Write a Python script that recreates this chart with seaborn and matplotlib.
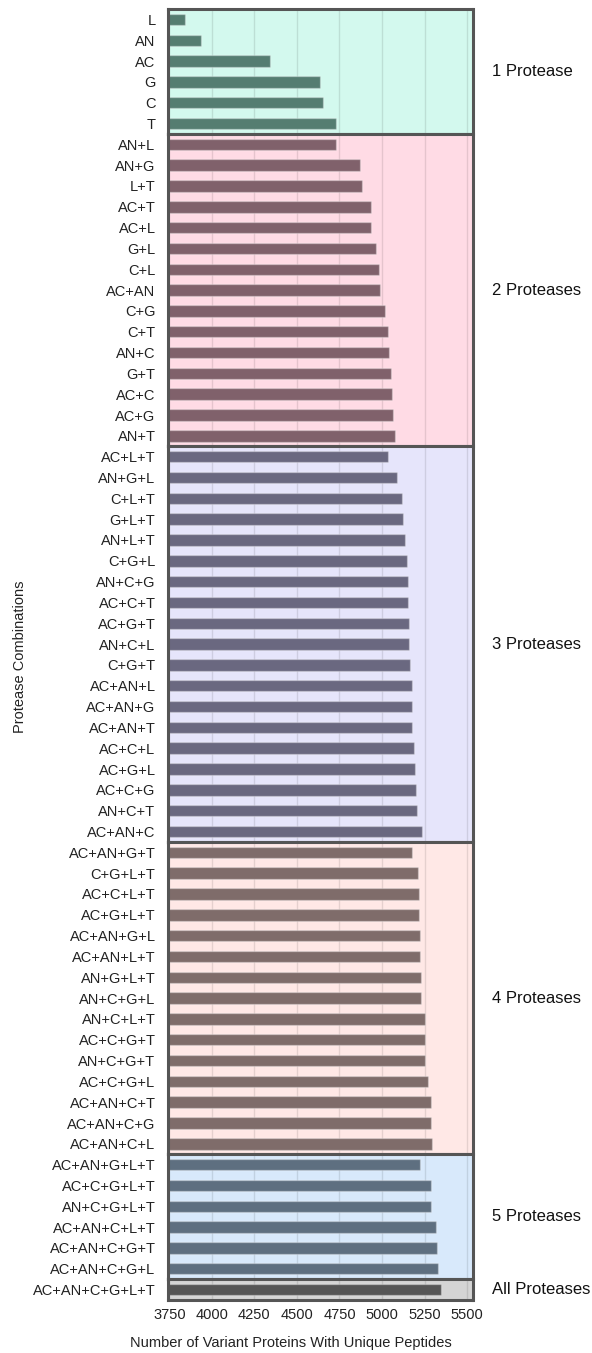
import matplotlib
matplotlib.use("Agg")
import matplotlib.pyplot as plt
import seaborn as sns
import pandas as pd

group_names = ["1 Protease", "2 Proteases", "3 Proteases", "4 Proteases",
               "5 Proteases", "All Proteases"]

labels_1 = ["L", "AN", "AC", "G", "C", "T"]
values_1 = [3841, 3936, 4344, 4636, 4656, 4729]

labels_2 = ["AN+L", "AN+G", "L+T", "AC+T", "AC+L", "G+L", "C+L", "AC+AN",
            "C+G", "C+T", "AN+C", "G+T", "AC+C", "AC+G", "AN+T"]
values_2 = [4727, 4873, 4880, 4933, 4938, 4967, 4980, 4987,
            5015, 5035, 5042, 5051, 5057, 5064, 5077]

labels_3 = ["AC+L+T", "AN+G+L", "C+L+T", "G+L+T", "AN+L+T", "C+G+L", "AN+C+G",
            "AC+C+T", "AC+G+T", "AN+C+L", "C+G+T", "AC+AN+L", "AC+AN+G",
            "AC+AN+T", "AC+C+L", "AC+G+L", "AC+C+G", "AN+C+T", "AC+AN+C"]
values_3 = [5035, 5088, 5115, 5124, 5137, 5146, 5150,
            5155, 5159, 5159, 5164, 5177, 5177,
            5177, 5186, 5195, 5201, 5208, 5235]

labels_4 = ["AC+AN+G+T", "C+G+L+T", "AC+C+L+T", "AC+G+L+T", "AC+AN+G+L",
            "AC+AN+L+T", "AN+G+L+T", "AN+C+G+L", "AN+C+L+T", "AC+C+G+T",
            "AN+C+G+T", "AC+C+G+L", "AC+AN+C+T", "AC+AN+C+G", "AC+AN+C+L"]
values_4 = [5177, 5213, 5215, 5217, 5221,
            5221, 5228, 5228, 5250, 5250,
            5252, 5270, 5286, 5286, 5292]

labels_5 = ["AC+AN+G+L+T", "AC+C+G+L+T", "AN+C+G+L+T", "AC+AN+C+L+T",
            "AC+AN+C+G+T", "AC+AN+C+G+L"]
values_5 = [5221, 5288, 5288, 5317, 5321, 5330]

labels_6 = ["AC+AN+C+G+L+T"]
values_6 = [5348]

x_ticks = [3750, 4000, 4250, 4500, 4750, 5000, 5250, 5500]

bg_colors = ["#d3f9ee", "#ffdbe5", "#e6e5fb", "#ffe8e6", "#d8e9fb", "#d4d4d4"]
bar_colors = ["#557d71", "#80616b", "#6a6880", "#7f6c6a", "#5e6f80", "#555555"]

all_labels = [labels_1, labels_2, labels_3, labels_4, labels_5, labels_6]
all_values = [values_1, values_2, values_3, values_4, values_5, values_6]

sns.set_theme(style="white")
plt.rcParams['font.family'] = ['Liberation Sans', 'DejaVu Sans']

fig = plt.figure(figsize=(5.92, 13.53), dpi=100)
gs = fig.add_gridspec(6, 1, height_ratios=[len(l) for l in all_labels], hspace=0,
                      left=168 / 592, right=472.5 / 592,
                      top=1 - 9 / 1353, bottom=1 - 1300 / 1353)

axes = []
for i in range(6):
    ax = fig.add_subplot(gs[i], sharex=axes[0] if axes else None)
    axes.append(ax)
    df = pd.DataFrame({"combo": all_labels[i], "count": all_values[i]})
    sns.barplot(data=df, x="count", y="combo", color=bar_colors[i], saturation=1,
                width=0.55, ax=ax, edgecolor=(1, 1, 1, 0.3), linewidth=1)
    ax.set_facecolor(bg_colors[i])
    ax.set_xlim(3742, 5532)
    ax.set_xticks(x_ticks)
    for s in ax.spines.values():
        s.set_color('#555555')
        s.set_linewidth(2.2)
    ax.tick_params(axis='both', length=0, labelsize=10.5, labelcolor='#222222')
    ax.tick_params(axis='y', pad=9)
    ax.tick_params(axis='x', pad=6)
    ax.set_xlabel('')
    ax.set_ylabel('')
    if i < 5:
        ax.tick_params(axis='x', labelbottom=False)
    ax.set_axisbelow(True)
    ax.grid(False)
    ax.xaxis.grid(True, color='#000000', alpha=0.1, linewidth=1)
    ax.text(1.064, 0.5, group_names[i], transform=ax.transAxes,
            va='center', ha='left', fontsize=12, color='#111111')

fig.text(20 / 592, 1 - 657 / 1353, "Protease Combinations", rotation=90,
         va='center', ha='center', fontsize=10.5, color='#222222')
fig.text(291 / 592, 1 - 1343 / 1353, "Number of Variant Proteins With Unique Peptides",
         va='center', ha='center', fontsize=10.5, color='#222222')

fig.savefig("out.png", dpi=100)
